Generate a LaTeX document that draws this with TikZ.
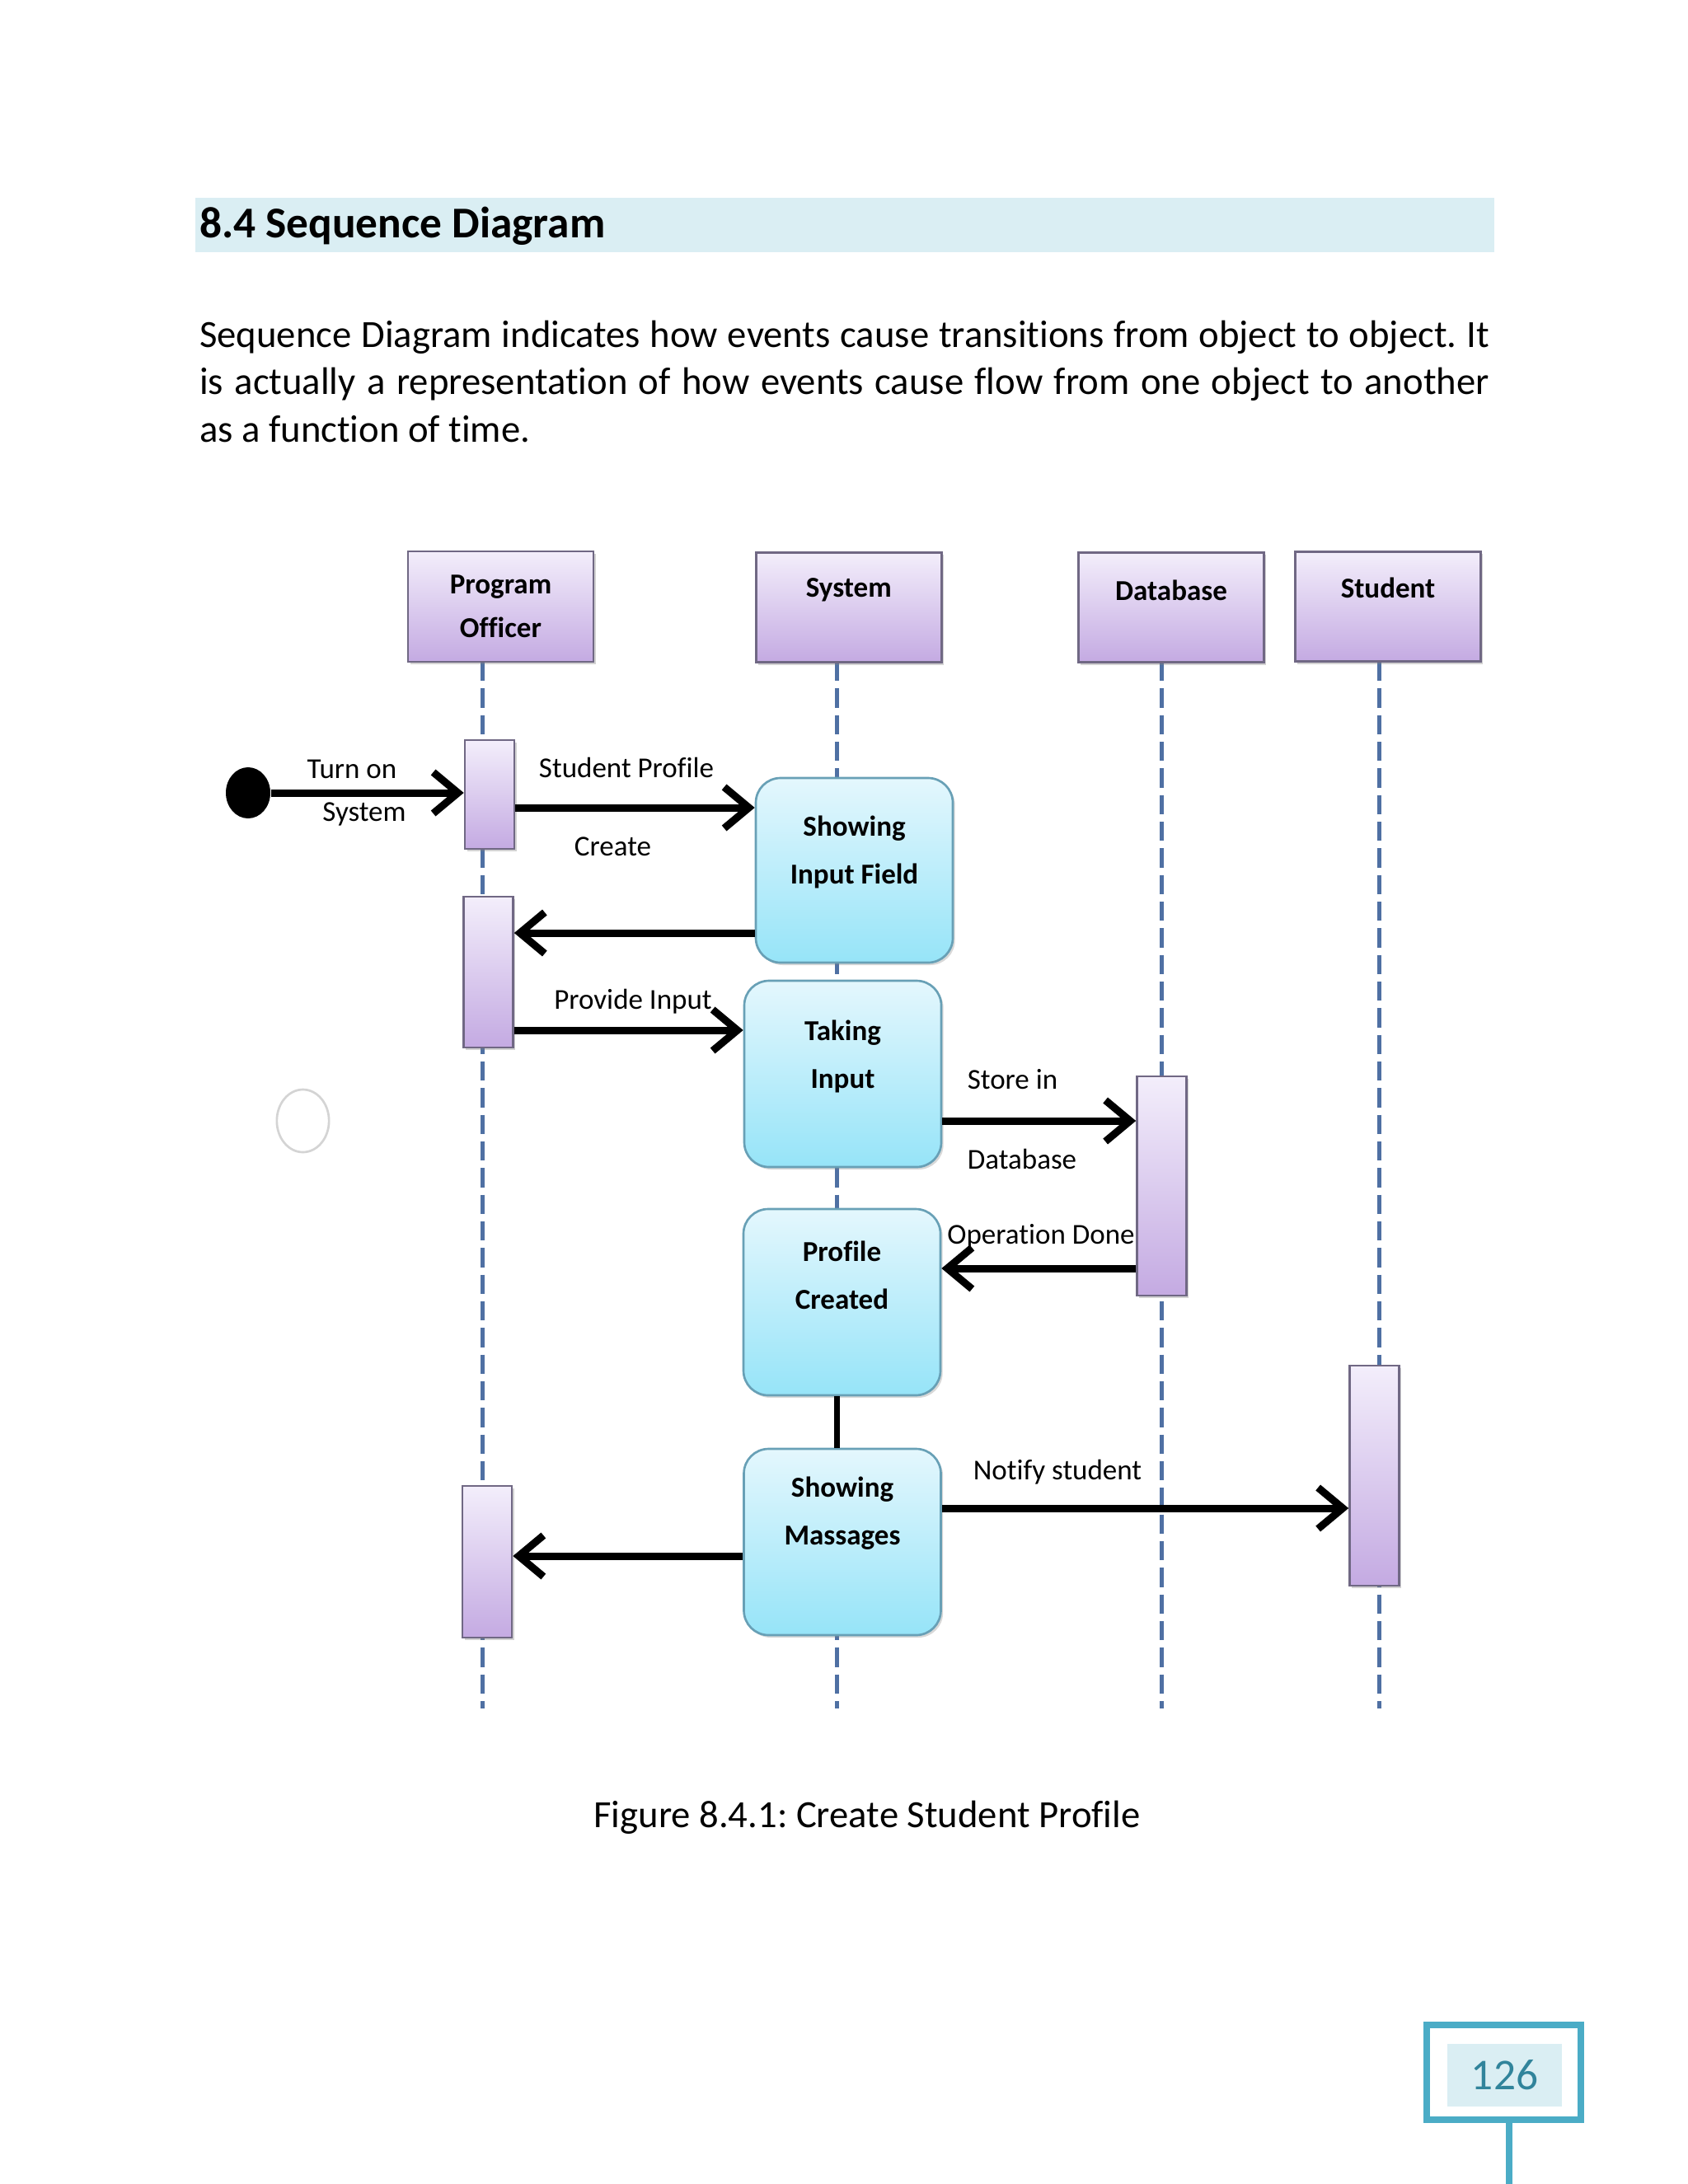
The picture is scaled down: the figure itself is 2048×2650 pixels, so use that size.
\documentclass[tikz,border=0pt]{standalone}
\usepackage{fontspec}
\setmainfont{Carlito}[Ligatures=NoCommon]
\frenchspacing
\usetikzlibrary{arrows.meta,shadows,shapes.geometric}

\definecolor{lifeblue}{RGB}{79,112,163}
\definecolor{headtop}{RGB}{243,238,251}
\definecolor{headbot}{RGB}{196,170,226}
\definecolor{headline}{RGB}{112,104,132}
\definecolor{acttop}{RGB}{228,247,253}
\definecolor{actbot}{RGB}{150,228,248}
\definecolor{actline}{RGB}{104,160,182}
\definecolor{banner}{RGB}{218,238,243}
\definecolor{pagebox}{RGB}{75,172,198}
\definecolor{pagenum}{RGB}{49,132,155}
\definecolor{stray}{RGB}{212,212,212}

\tikzset{
  headbox/.style={draw=headline, line width=0.8pt, top color=headtop, bottom color=headbot,
    minimum width=67.5pt, minimum height=40pt, inner sep=0pt,
    drop shadow={shadow xshift=0.8pt, shadow yshift=-0.9pt, opacity=0.35}},
  headtext/.style={font=\bfseries\fontsize{10.5}{16}\selectfont, align=center},
  bar/.style={draw=headline, line width=0.8pt, top color=headtop, bottom color=headbot,
    minimum width=18pt, inner sep=0pt,
    drop shadow={shadow xshift=0.8pt, shadow yshift=-0.9pt, opacity=0.35}},
  actbox/.style={draw=actline, line width=0.8pt, rounded corners=9pt, top color=acttop, bottom color=actbot,
    minimum width=71.7pt, minimum height=67.8pt, inner sep=0pt,
    drop shadow={shadow xshift=0.8pt, shadow yshift=-0.9pt, opacity=0.3}},
  acttext/.style={font=\bfseries\fontsize{10.5}{17.4}\selectfont, align=center},
  lifeline/.style={lifeblue, line width=1.5pt, dash pattern=on 7pt off 2.7pt},
  msg/.style={line width=2.7pt, -{Straight Barb[length=9pt,width=15pt]}},
  msgtext/.style={font=\fontsize{10.5}{13}\selectfont, inner sep=0pt},
  bodytext/.style={font=\fontsize{14}{17.25}\selectfont, inner sep=0pt}
}

\begin{document}
\begin{tikzpicture}[x=0.3pt,y=-0.3pt]
  \fill[white] (0,0) rectangle (2048,2650);
  \useasboundingbox (0,0) rectangle (2048,2650);

  % heading and intro
  \node[fill=banner, minimum width=472.8pt, minimum height=19.8pt, inner sep=0pt] (banner) at (1025,273) {};
  \node[font=\bfseries\fontsize{16}{18}\selectfont, anchor=west, inner sep=0pt] (title) at (241.6,274) {8.4 Sequence Diagram};
  \node[bodytext, anchor=base west, align=left] (intro) at (241.6,536)
    {\makebox[469.4pt][s]{Sequence Diagram indicates how events cause transitions from object to object. It}\\
     \makebox[469.4pt][s]{is actually a representation of how events cause flow from one object to another}\\
     as a function of time.};

  % lifelines
  \foreach \name/\x in {po/585,sys/1015,db/1409,stu/1673} {
    \coordinate (\name-top) at (\x,803);
    \coordinate (\name-end) at (\x,2073);
    \draw[lifeline] (\name-top) -- (\name-end);
  }

  % objects
  \node[headbox, minimum height=40.2pt, label={[headtext]center:Program\\Officer}] (po) at (607.5,736) {};
  \node[headbox, label={[headtext, yshift=6.3pt]center:System}] (sys) at (1029.8,737) {};
  \node[headbox, label={[headtext, yshift=6.3pt]center:Database}] (db) at (1421,737) {};
  \node[headbox, label={[headtext, yshift=6.9pt]center:Student}] (stu) at (1684,736) {};

  % activation bars
  \foreach \name/\x/\y/\h in {po1/594/964/39.6, po2/592.5/1179.5/54.9, po3/591/1895/55.2,
                              dbbar/1409.5/1439/79.8, stubar/1667.5/1790.5/80.1}
    \node[bar, minimum height=\h pt] (\name) at (\x,\y) {};

  % system states
  \node[actbox, minimum height=67.2pt, label={[acttext, yshift=6.6pt]center:Showing\\Input Field}] (sif) at (1036.5,1056) {};
  \node[actbox, label={[acttext, yshift=6.3pt]center:Taking\\Input}] (ti) at (1022.5,1303) {};
  \node[actbox, label={[acttext, yshift=9.9pt]center:Profile\\Created}] (pc) at (1021.5,1580) {};
  \node[actbox, label={[acttext, yshift=10.5pt]center:Showing\\Massages}] (sm) at (1022,1871) {};
  \draw[line width=2.1pt] (pc.south -| sys-top) -- (sm.north -| sys-top);

  % start point and stray mark
  \node[ellipse, fill=black, minimum width=16.2pt, minimum height=18.6pt, inner sep=0pt] (start) at (301,962) {};
  \node[ellipse, draw=stray, line width=0.8pt, minimum width=19pt, minimum height=22.8pt, inner sep=0pt] (mark) at (367.5,1360) {};

  % messages
  \foreach \row/\y in {m2/980,m3/1132,m4/1250,m5/1360,m6/1539,m7/1830,m8/1888}
    \coordinate (\row) at (0,\y);
  \draw[msg] (start.east) -- (po1.west |- start);
  \draw[msg] (po1.east |- m2) -- (sif.west |- m2);
  \draw[msg] (sif.west |- m3) -- (po2.east |- m3);
  \draw[msg] (po2.east |- m4) -- (ti.west |- m4);
  \draw[msg] (ti.east |- m5) -- (dbbar.west |- m5);
  \draw[msg] (dbbar.west |- m6) -- (pc.east |- m6);
  \draw[msg] (sm.east |- m7) -- (stubar.west |- m7);
  \draw[msg] (sm.west |- m8) -- (po3.east |- m8);

  \node[msgtext] (turnon) at (427,933) {Turn on};
  \node[msgtext] (turnsys) at (442,988) {System};
  \node[msgtext] (profile) at (760,931) {Student Profile};
  \node[msgtext] (create) at (743.5,1027) {Create};
  \node[msgtext] (provide) at (768,1215) {Provide Input};
  \node[msgtext] (storein) at (1228.5,1310) {Store in};
  \node[msgtext] (storedb) at (1240,1406) {Database};
  \node[msgtext] (done) at (1263,1500) {Operation Done};
  \node[msgtext] (notify) at (1283,1786) {Notify student};

  % caption and page number
  \node[bodytext] (caption) at (1052,2205) {Figure 8.4.1: Create Student Profile};
  \node[draw=pagebox, line width=2.4pt, minimum width=56.1pt, minimum height=34.5pt, inner sep=0pt] (pgbox) at (1824.5,2514.5) {};
  \node[fill=banner, minimum width=41.7pt, minimum height=22.8pt, inner sep=0pt, text=pagenum,
        font=\fontsize{16}{16}\selectfont] (pgnum) at (1825.5,2518) {126};
  \coordinate (pgfoot) at (1831,2650);
  \draw[pagebox, line width=2.4pt] (pgbox.south -| pgfoot) -- (pgfoot);
\end{tikzpicture}
\end{document}
